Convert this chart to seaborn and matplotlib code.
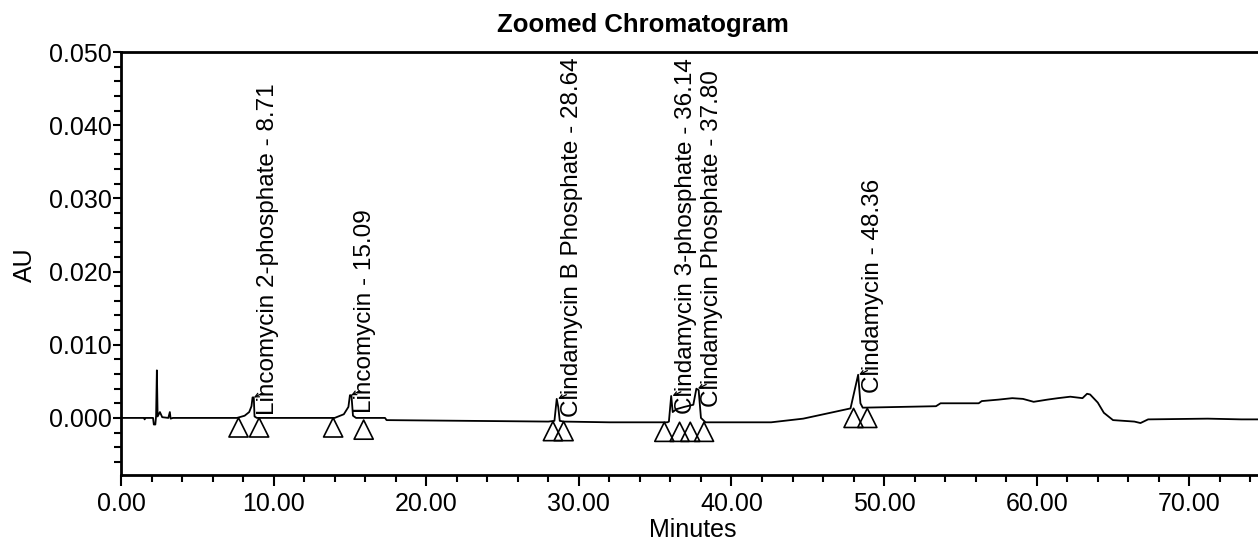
import matplotlib
matplotlib.use("Agg")
import matplotlib.pyplot as plt
from matplotlib.ticker import MultipleLocator, FormatStrFormatter
import seaborn as sns
import pandas as pd

# ---- data ----
trace_min = [0.0, 1.5, 1.55, 1.6, 2.1, 2.15, 2.25, 2.3, 2.35, 2.4, 2.55, 2.7, 3.1, 3.2, 3.25, 3.4,
             7.6, 8.1, 8.4, 8.55, 8.62, 8.7, 8.75, 8.9,
             14.0, 14.6, 14.9, 15.0, 15.1, 15.2, 15.4, 17.3, 17.4,
             28.0, 28.4, 28.55, 28.65, 28.75, 29.0, 32.0,
             35.8, 35.9, 36.05, 36.15, 36.4, 36.9, 37.5, 37.7, 37.85, 38.0, 38.3,
             41.5, 42.6, 44.7, 46.7, 47.8, 48.3, 48.45, 48.6,
             53.4, 53.7, 56.2, 56.4, 57.5, 58.4, 59.1, 59.8, 60.7, 61.4, 62.2, 63.0, 63.3, 63.5,
             64.0, 64.4, 65.0, 66.4, 66.8, 67.3, 71.2, 73.4, 74.6]
trace_au = [0.0, 0.0, -0.0002, 0.0, 0.0, -0.0009, -0.0009, 0.0003, 0.0065, 0.0002, 0.0008, 0.0001, 0.0, 0.0008, -0.0001, 0.0,
            0.0, 0.0003, 0.0008, 0.0016, 0.0028, 0.0028, 0.0002, 0.0,
            0.0, 0.0005, 0.0015, 0.0031, 0.0031, 0.0003, 0.0, 0.0, -0.0003,
            -0.0005, -0.0004, 0.0026, 0.0015, -0.0004, -0.0005, -0.0006,
            -0.0006, -0.0005, 0.0030, 0.0008, 0.0012, 0.0015, 0.0018, 0.0040, 0.0038, 0.0, -0.0006,
            -0.0006, -0.0006, -0.0001, 0.0008, 0.0013, 0.0059, 0.0020, 0.0014,
            0.0016, 0.0020, 0.0020, 0.0023, 0.0025, 0.0027, 0.0026, 0.0022, 0.0025, 0.0027, 0.0029, 0.0027, 0.0033, 0.0032,
            0.0021, 0.0007, -0.0003, -0.0005, -0.0007, -0.0002, -0.0001, -0.0002, -0.0002]

peak_names = ["Lincomycin 2-phosphate", "Lincomycin", "Clindamycin B Phosphate",
              "Clindamycin 3-phosphate", "Clindamycin Phosphate", "Clindamycin"]
peak_rt = [8.71, 15.09, 28.64, 36.14, 37.80, 48.36]
peak_apex = [0.0028, 0.0031, 0.0026, 0.0030, 0.0040, 0.0059]

marker_min = [7.7, 9.05, 13.9, 15.9, 28.3, 29.0, 35.6, 36.6, 37.3, 38.2, 48.0, 48.9]
marker_au = [-0.0013, -0.0013, -0.0013, -0.0016, -0.0018, -0.0018, -0.0019, -0.0019, -0.0019, -0.0019, 0.0000, 0.0000]

x_ticks = [0, 10, 20, 30, 40, 50, 60, 70]
y_ticks = [0.0, 0.01, 0.02, 0.03, 0.04, 0.05]

# ---- style ----
sns.set_style("ticks")
plt.rcParams["font.family"] = ["Liberation Sans", "DejaVu Sans"]
plt.rcParams["text.color"] = "black"
FS = 18

W, H = 1258, 545
fig = plt.figure(figsize=(W / 100, H / 100), dpi=100)
left, right, top, bottom = 121, 1258, 52, 475
ax = fig.add_axes([left / W, 1 - bottom / H, (right - left) / W, (bottom - top) / H])

trace = pd.DataFrame({"Minutes": trace_min, "AU": trace_au})
sns.lineplot(data=trace, x="Minutes", y="AU", ax=ax, color="black", lw=1.3,
             sort=False, estimator=None)

marks = pd.DataFrame({"Minutes": marker_min, "AU": marker_au})
sns.scatterplot(data=marks, x="Minutes", y="AU", ax=ax, marker="^", s=190,
                facecolor="none", edgecolor="black", linewidth=1.2, zorder=3)

for name, rt, apex in zip(peak_names, peak_rt, peak_apex):
    ax.annotate(f"{name} - {rt:.2f}", xy=(rt, apex), xytext=(10, -13),
                textcoords="offset points", rotation=90, ha="center", va="bottom",
                fontsize=17.5, color="black")
    ax.annotate("", xy=(rt, apex), xytext=(6, 3), textcoords="offset points",
                arrowprops=dict(arrowstyle="->", lw=0.9, color="black",
                                mutation_scale=7, shrinkA=0, shrinkB=0))

ax.set_xlim(0, 74.5)
ax.set_ylim(-0.0078, 0.050)
ax.set_xticks(x_ticks)
ax.set_yticks(y_ticks)
ax.xaxis.set_minor_locator(MultipleLocator(2))
ax.yaxis.set_minor_locator(MultipleLocator(0.002))
ax.xaxis.set_major_formatter(FormatStrFormatter("%.2f"))
ax.yaxis.set_major_formatter(FormatStrFormatter("%.3f"))
ax.tick_params(axis="both", which="major", direction="out", length=8, width=1.5,
               labelsize=FS, color="black", labelcolor="black")
ax.tick_params(axis="both", which="minor", direction="out", length=5, width=1.5, color="black")
ax.tick_params(axis="y", which="major", length=6, pad=0.5)
ax.tick_params(axis="x", which="major", pad=4)

for side in ["left", "bottom", "top"]:
    ax.spines[side].set_visible(True)
    ax.spines[side].set_linewidth(2)
    ax.spines[side].set_color("black")
ax.spines["right"].set_visible(False)

ax.set_xlabel("")
ax.set_ylabel("")
fig.text(693 / W, 1 - 530 / H, "Minutes", ha="center", va="center", fontsize=FS, color="black")
fig.text(25 / W, 1 - 265 / H, "AU", ha="center", va="center", rotation=90, fontsize=FS, color="black")
fig.text(643 / W, 1 - 25 / H, "Zoomed Chromatogram", ha="center", va="center",
         fontsize=18.5, fontweight="bold", color="black")

fig.savefig("out.png", dpi=100)
